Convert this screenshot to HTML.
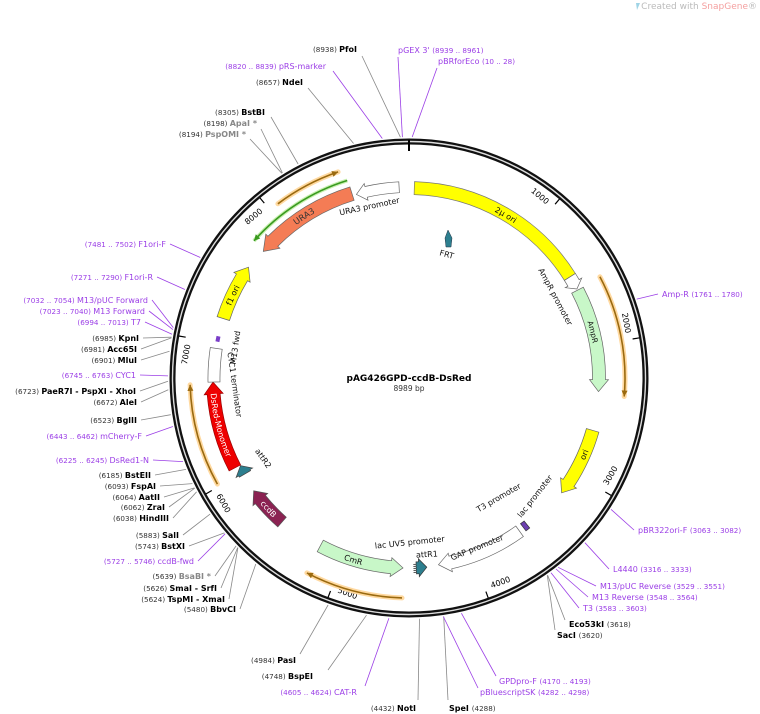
<!DOCTYPE html>
<html><head><meta charset="utf-8">
<style>
html,body{margin:0;padding:0;background:#fff;}
svg{display:block;font-family:"DejaVu Sans","Liberation Sans",sans-serif;}
</style></head>
<body>
<svg id="s" width="760" height="714" viewBox="0 0 760 714" xmlns="http://www.w3.org/2000/svg">
<text x="757" y="9" font-size="9" fill="#bbb" text-anchor="end">Created with <tspan fill="#f4a0a0">SnapGene</tspan>®</text>
<path d="M636 3 l4 0 -3 7 z" fill="#9fd4e6"/>
<text x="409" y="381" font-size="9" font-weight="bold" text-anchor="middle">pAG426GPD-ccdB-DsRed</text>
<text x="409" y="391" font-size="7.5" fill="#333" text-anchor="middle">8989 bp</text>
<defs id="df"></defs>
<g id="g"></g>
</svg>
<script>
var NS="http://www.w3.org/2000/svg",g=document.getElementById('g'),df=document.getElementById('df');
var cx=409,cy=378,T=8989;
function D(bp){return bp/T*360;}
function P(a,r){var t=a*Math.PI/180;return [cx+r*Math.sin(t),cy-r*Math.cos(t)];}
function f(p){return p[0].toFixed(1)+' '+p[1].toFixed(1);}
function el(n,at,txt,par){var e=document.createElementNS(NS,n);for(var k in at)e.setAttribute(k,at[k]);if(txt!==undefined)e.textContent=txt;(par||g).appendChild(e);return e;}
function arc(a1,a2,r){return 'M'+f(P(a1,r))+' A'+r+' '+r+' 0 0 1 '+f(P(a2,r));}
// ring
el('circle',{cx:cx,cy:cy,r:236.5,fill:'none',stroke:'#111','stroke-width':6});
el('circle',{cx:cx,cy:cy,r:236.5,fill:'none',stroke:'#ddd','stroke-width':1.4});
// ticks
[1000,2000,3000,4000,5000,6000,7000,8000].forEach(function(b){
 var a=D(b);el('path',{d:'M'+f(P(a,234))+' L'+f(P(a,227)),stroke:'#000','stroke-width':1.2});
 var p=P(a-4.3,224);var top=(a<90||a>270);var rot=top?a:a-180;
 el('text',{x:0,y:0,'font-size':8,'text-anchor':'middle','dominant-baseline':'middle',transform:'translate('+p[0].toFixed(1)+','+p[1].toFixed(1)+') rotate('+rot.toFixed(1)+')'},String(b));
});
el('path',{d:'M409 140 L409 151',stroke:'#000','stroke-width':2});
// feature arrows
function feat(b1,b2,r,w,fill,stroke,dir,hd){
 var a1=D(b1),a2=D(b2),ro=r+w/2,ri=r-w/2;hd=hd||11;var dh=hd/r*180/Math.PI,d;
 if(dir==1){d='M'+f(P(a1,ro))+' A'+ro+' '+ro+' 0 0 1 '+f(P(a2-dh,ro))+' L'+f(P(a2-dh,ro+3))+' L'+f(P(a2,r))+' L'+f(P(a2-dh,ri-3))+' L'+f(P(a2-dh,ri))+' A'+ri+' '+ri+' 0 0 0 '+f(P(a1,ri))+' Z';}
 else if(dir==-1){d='M'+f(P(a1,r))+' L'+f(P(a1+dh,ro+3))+' L'+f(P(a1+dh,ro))+' A'+ro+' '+ro+' 0 0 1 '+f(P(a2,ro))+' L'+f(P(a2,ri))+' A'+ri+' '+ri+' 0 0 0 '+f(P(a1+dh,ri))+' L'+f(P(a1+dh,ri-3))+' Z';}
 else {d='M'+f(P(a1,ro))+' A'+ro+' '+ro+' 0 0 1 '+f(P(a2,ro))+' L'+f(P(a2,ri))+' A'+ri+' '+ri+' 0 0 0 '+f(P(a1,ri))+' Z';}
 el('path',{d:d,fill:fill,stroke:stroke||'#555','stroke-width':0.7});
}
function oline(b1,b2,r,col,glow,dir){
 var a1=D(b1),a2=D(b2);
 el('path',{d:arc(a1,a2,r),fill:'none',stroke:glow,'stroke-width':5,'stroke-linecap':'round'});
 el('path',{d:arc(a1,a2,r),fill:'none',stroke:col,'stroke-width':1.6});
 var tip=dir==1?a2:a1,bk=dir==1?a2-6/r*57.3:a1+6/r*57.3;
 el('path',{d:'M'+f(P(bk,r+3))+' L'+f(P(tip,r))+' L'+f(P(bk,r-3))+' Z',fill:col});
}
feat(40,1445,190,13,'#ffff00','#777',0);
feat(1445,1550,190,13,'#fff','#666',1,7);
feat(1560,2350,190,13,'#c8f7c8','#666',1,12);
feat(2645,3170,191,13,'#ffff00','#666',1,12);
feat(3600,4270,189,13,'#fff','#666',1,12);
feat(3525,3560,188,9,'#6c3fb0','#333',0);
feat(4360,4440,190,12,'#2d7f8f','#333',-1,8);
feat(4540,5190,190,13,'#c8f7c8','#666',-1,12);
feat(5528,5843,192,13,'#8b2252','#555',1,11);
feat(5985,6055,190,13,'#2d7f8f','#444',1,8);
feat(6060,6712,196,13,'#ee0000','#900',1,12);
feat(6712,6960,195,12,'#fff','#666',0);
feat(7185,7606,195,13,'#ffff00','#666',1,12);
feat(7765,8560,193,14,'#f47c55','#666',-1,14);
feat(8590,8915,191,11,'#fff','#666',-1,10);
// small marks
el('path',{d:'M'+f(P(D(7010),195))+' L'+f(P(D(7050),195)),stroke:'#7a3ec8','stroke-width':4});
el('path',{d:'M'+f(P(D(4450),186))+' L'+f(P(D(4450),196)),stroke:'#555','stroke-width':3,'stroke-dasharray':'1 1'});
oline(1550,2370,216,'#9a6a10','#ffd9a0',1);
oline(4540,5185,220,'#9a6a10','#ffd9a0',1);
oline(6018,6697,219,'#9a6a10','#ffd9a0',1);
oline(8066,8515,218,'#9a6a10','#ffd9a0',1);
(function(){var a1=D(7778),a2=D(8555),r=207;
 el('path',{d:arc(a1,a2,r),fill:'none',stroke:'#c8f0b0','stroke-width':4});
 el('path',{d:arc(a1,a2,r),fill:'none',stroke:'#3a9a20','stroke-width':1.6});
 var bk=a1+6/r*57.3;el('path',{d:'M'+f(P(bk,r+3))+' L'+f(P(a1,r))+' L'+f(P(bk,r-3))+' Z',fill:'#3a9a20'});})();
// FRT
el('path',{d:'M446 247 L445 238 L448 230 L452 238 L451 247 Z',fill:'#2d7f8f',stroke:'#234','stroke-width':0.5});
// curved text
var cid=0;
function ctext(bp,r,s,ccw,col,sz){
 var a=D(bp),id='cp'+(cid++),d;
 if(!ccw){d=arc(a-40,a+40,r-3);}else{var rr=r+3;d='M'+f(P(a+40,rr))+' A'+rr+' '+rr+' 0 0 0 '+f(P(a-40,rr));}
 el('path',{id:id,d:d,fill:'none'},undefined,df);
 var t=el('text',{'font-size':sz||8,fill:col||'#111'});
 var tp=document.createElementNS(NS,'textPath');tp.setAttribute('href','#'+id);tp.setAttribute('startOffset','50%');tp.setAttribute('text-anchor','middle');tp.textContent=s;t.appendChild(tp);
}
ctext(766,190,'2μ ori',false);
ctext(1896,190,'AmpR',false,'#111',7.5);
ctext(2837,191,'ori',true);
ctext(4919,190,'CmR',true);
ctext(5668,192,'ccdB',true,'#fff');
ctext(6392,196,'DsRed-Monomer',true,'#fff');
ctext(7370,195,'f1 ori',false);
ctext(8165,193,'URA3',false,'#333',8.5);
// inner texts
function rt(x,y,rot,s,sz,col,w){el('text',{x:0,y:0,'font-size':sz||8,'text-anchor':'middle',fill:col||'#111','font-weight':w||'normal',transform:'translate('+x+','+y+') rotate('+rot+')'},s);}
rt(446,257,15,'FRT');
rt(553,298,62,'AmpR promoter');
rt(500,500,-30,'T3 promoter');
rt(537,498,-52,'lac promoter');
rt(478,550,-22,'GAP promoter');
rt(410,545,-6,'lac UV5 promoter');
rt(427,557,-3,'attR1');
rt(261,460,55,'attR2');
rt(232,385,82,'CYC1 terminator');
rt(238,348,-82,'M13 fwd');
rt(370,209,-12,'URA3 promoter');
// labels
var C={k:'#000',p:'#9b3ee6',g:'#888'};
function lab(x,y,bp,n1,n2,c,anc,lx,ly){
 var t=el('text',{x:x,y:y,'font-size':8,'text-anchor':anc});
 var num=anc=='end'?n1:n2,name=anc=='end'?n2:n1;
 var s1=document.createElementNS(NS,'tspan'),s2=document.createElementNS(NS,'tspan');
 var nc=c=='p'?C.p:'#333',mc=C[c];
 if(anc=='end'){s1.textContent=num+'  ';s1.setAttribute('fill',nc);s1.setAttribute('font-size','7.2');s2.textContent=name;s2.setAttribute('fill',mc);if(c!='p')s2.setAttribute('font-weight','bold');t.appendChild(s1);t.appendChild(s2);}
 else{s2.textContent=name+'   ';s2.setAttribute('fill',mc);if(c!='p')s2.setAttribute('font-weight','bold');s1.textContent=num;s1.setAttribute('fill',nc);s1.setAttribute('font-size','7.2');t.appendChild(s2);t.appendChild(s1);}
 var sx=lx!==undefined?lx:(anc=='end'?x+4:x-4),sy=ly!==undefined?ly:y-3;
 var e=P(D(bp),241);
 el('path',{d:'M'+sx+' '+sy+' L'+f(e),stroke:c=='p'?C.p:'#888','stroke-width':0.8,fill:'none'});
}
[[357,52,8938,'(8938)','PfoI','k',362,56],[326,69,8830,'(8820 .. 8839)','pRS-marker','p',333,71],[303,85,8657,'(8657)','NdeI','k',308,88],
[265,115,8305,'(8305)','BstBI','k',271,117],[257,126,8198,'(8198)','ApaI *','g',261,129],[246,137,8194,'(8194)','PspOMI *','g',250,139],
[166,247,7491,'(7481 .. 7502)','F1ori-F','p'],[153,280,7280,'(7271 .. 7290)','F1ori-R','p'],[148,303,7043,'(7032 .. 7054)','M13/pUC Forward','p'],
[145,314,7031,'(7023 .. 7040)','M13 Forward','p'],[141,325,7003,'(6994 .. 7013)','T7','p'],[139,341,6985,'(6985)','KpnI','k'],
[137,352,6981,'(6981)','Acc65I','k'],[137,363,6901,'(6901)','MluI','k'],[136,378,6754,'(6745 .. 6763)','CYC1','p'],
[136,394,6723,'(6723)','PaeR7I  - PspXI  - XhoI','k'],[137,405,6672,'(6672)','AleI','k'],[137,423,6523,'(6523)','BglII','k'],
[142,439,6452,'(6443 .. 6462)','mCherry-F','p'],[149,463,6235,'(6225 .. 6245)','DsRed1-N','p'],[151,478,6185,'(6185)','BstEII','k'],
[156,489,6093,'(6093)','FspAI','k'],[160,500,6064,'(6064)','AatII','k'],[165,510,6062,'(6062)','ZraI','k'],[169,521,6038,'(6038)','HindIII','k'],
[179,538,5883,'(5883)','SalI','k'],[185,549,5743,'(5743)','BstXI','k'],[194,564,5736,'(5727 .. 5746)','ccdB-fwd','p'],
[211,579,5639,'(5639)','BsaBI *','g'],[217,591,5626,'(5626)','SmaI  - SrfI','k'],[225,602,5624,'(5624)','TspMI  - XmaI','k'],
[236,612,5480,'(5480)','BbvCI','k'],[296,663,4984,'(4984)','PasI','k',300,654],[313,679,4748,'(4748)','BspEI','k',328,670],
[357,695,4614,'(4605 .. 4624)','CAT-R','p',365,686],[416,711,4432,'(4432)','NotI','k',418,700]
].forEach(function(a){lab(a[0],a[1],a[2],a[3],a[4],a[5],'end',a[6],a[7]);});
[[449,711,4288,'SpeI','(4288)','k',448,700],[499,684,4181,'GPDpro-F','(4170 .. 4193)','p',496,676],[480,695,4290,'pBluescriptSK','(4282 .. 4298)','p',478,688],
[569,627,3618,'Eco53kI','(3618)','k',565,620],[557,638,3620,'SacI','(3620)','k',555,630],[583,611,3593,'T3','(3583 .. 3603)','p'],
[592,600,3556,'M13 Reverse','(3548 .. 3564)','p'],[600,589,3540,'M13/pUC Reverse','(3529 .. 3551)','p'],[613,572,3324,'L4440','(3316 .. 3333)','p'],
[638,533,3072,'pBR322ori-F','(3063 .. 3082)','p'],[662,297,1770,'Amp-R','(1761 .. 1780)','p']
].forEach(function(a){lab(a[0],a[1],a[2],a[3],a[4],a[5],'start',a[6],a[7]);});
lab(398,53,8950,"pGEX 3'",'(8939 .. 8961)','p','start',398,57);
lab(438,64,19,'pBRforEco','(10 .. 28)','p','start',437,68);
</script>
</body></html>
